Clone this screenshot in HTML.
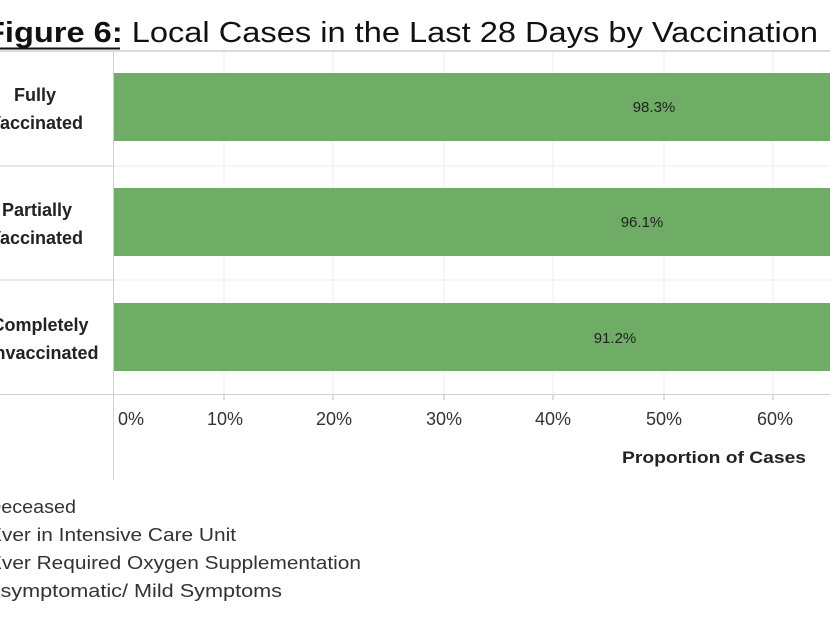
<!DOCTYPE html>
<html><head><meta charset="utf-8"><style>
html,body{margin:0;padding:0;background:#fff;width:830px;height:622px;overflow:hidden}
svg{display:block}
</style></head><body>
<svg width="830" height="622" xmlns="http://www.w3.org/2000/svg" font-family="Liberation Sans, sans-serif">
<text x="-15" y="42" font-size="29" fill="#111" textLength="833" lengthAdjust="spacingAndGlyphs"><tspan font-weight="bold">Figure 6:</tspan> Local Cases in the Last 28 Days by Vaccination</text>
<line x1="0" y1="48.5" x2="120" y2="48.5" stroke="#111" stroke-width="2"/>
<line x1="0" y1="51" x2="830" y2="51" stroke="#cfcfcf" stroke-width="1.5"/>
<g stroke="#ededed" stroke-width="1">
<line x1="224" y1="52" x2="224" y2="394"/><line x1="333" y1="52" x2="333" y2="394"/><line x1="444" y1="52" x2="444" y2="394"/><line x1="553" y1="52" x2="553" y2="394"/><line x1="664" y1="52" x2="664" y2="394"/><line x1="773" y1="52" x2="773" y2="394"/>
<line x1="113" y1="166" x2="830" y2="166"/><line x1="113" y1="280" x2="830" y2="280"/>
</g>
<g stroke="#d0d0d0" stroke-width="1">
<line x1="0" y1="166" x2="113" y2="166"/><line x1="0" y1="280" x2="113" y2="280"/><line x1="0" y1="394.5" x2="830" y2="394.5"/>
<line x1="113.5" y1="52" x2="113.5" y2="480"/>
</g>
<g stroke="#bbb"><line x1="224" y1="395" x2="224" y2="400"/><line x1="333" y1="395" x2="333" y2="400"/><line x1="444" y1="395" x2="444" y2="400"/><line x1="553" y1="395" x2="553" y2="400"/><line x1="664" y1="395" x2="664" y2="400"/><line x1="773" y1="395" x2="773" y2="400"/></g>
<g fill="#6fac66">
<rect x="114" y="73" width="716" height="68"/>
<rect x="114" y="188" width="716" height="68"/>
<rect x="114" y="303" width="716" height="68"/>
</g>
<g font-size="15" fill="#222" text-anchor="middle">
<text x="654" y="112">98.3%</text><text x="642" y="227">96.1%</text><text x="615" y="343">91.2%</text>
</g>
<g font-size="18" font-weight="bold" fill="#222" text-anchor="middle">
<text x="35" y="101">Fully</text><text x="36" y="129">Vaccinated</text>
<text x="37" y="216">Partially</text><text x="36" y="244">Vaccinated</text>
<text x="40" y="331">Completely</text><text x="40" y="359">Unvaccinated</text>
</g>
<g font-size="18" fill="#333" text-anchor="middle">
<text x="131" y="425">0%</text><text x="225" y="425">10%</text><text x="334" y="425">20%</text><text x="444" y="425">30%</text><text x="553" y="425">40%</text><text x="664" y="425">50%</text><text x="775" y="425">60%</text>
</g>
<text x="622" y="463" font-size="17" font-weight="bold" fill="#222" textLength="184" lengthAdjust="spacingAndGlyphs">Proportion of Cases</text>
<g font-size="18" fill="#333">
<text x="-13" y="513" textLength="89" lengthAdjust="spacingAndGlyphs">Deceased</text>
<text x="-12" y="541" textLength="248" lengthAdjust="spacingAndGlyphs">Ever in Intensive Care Unit</text>
<text x="-12" y="569" textLength="373" lengthAdjust="spacingAndGlyphs">Ever Required Oxygen Supplementation</text>
<text x="-14" y="597" textLength="296" lengthAdjust="spacingAndGlyphs">Asymptomatic/ Mild Symptoms</text>
</g>
</svg>
</body></html>
